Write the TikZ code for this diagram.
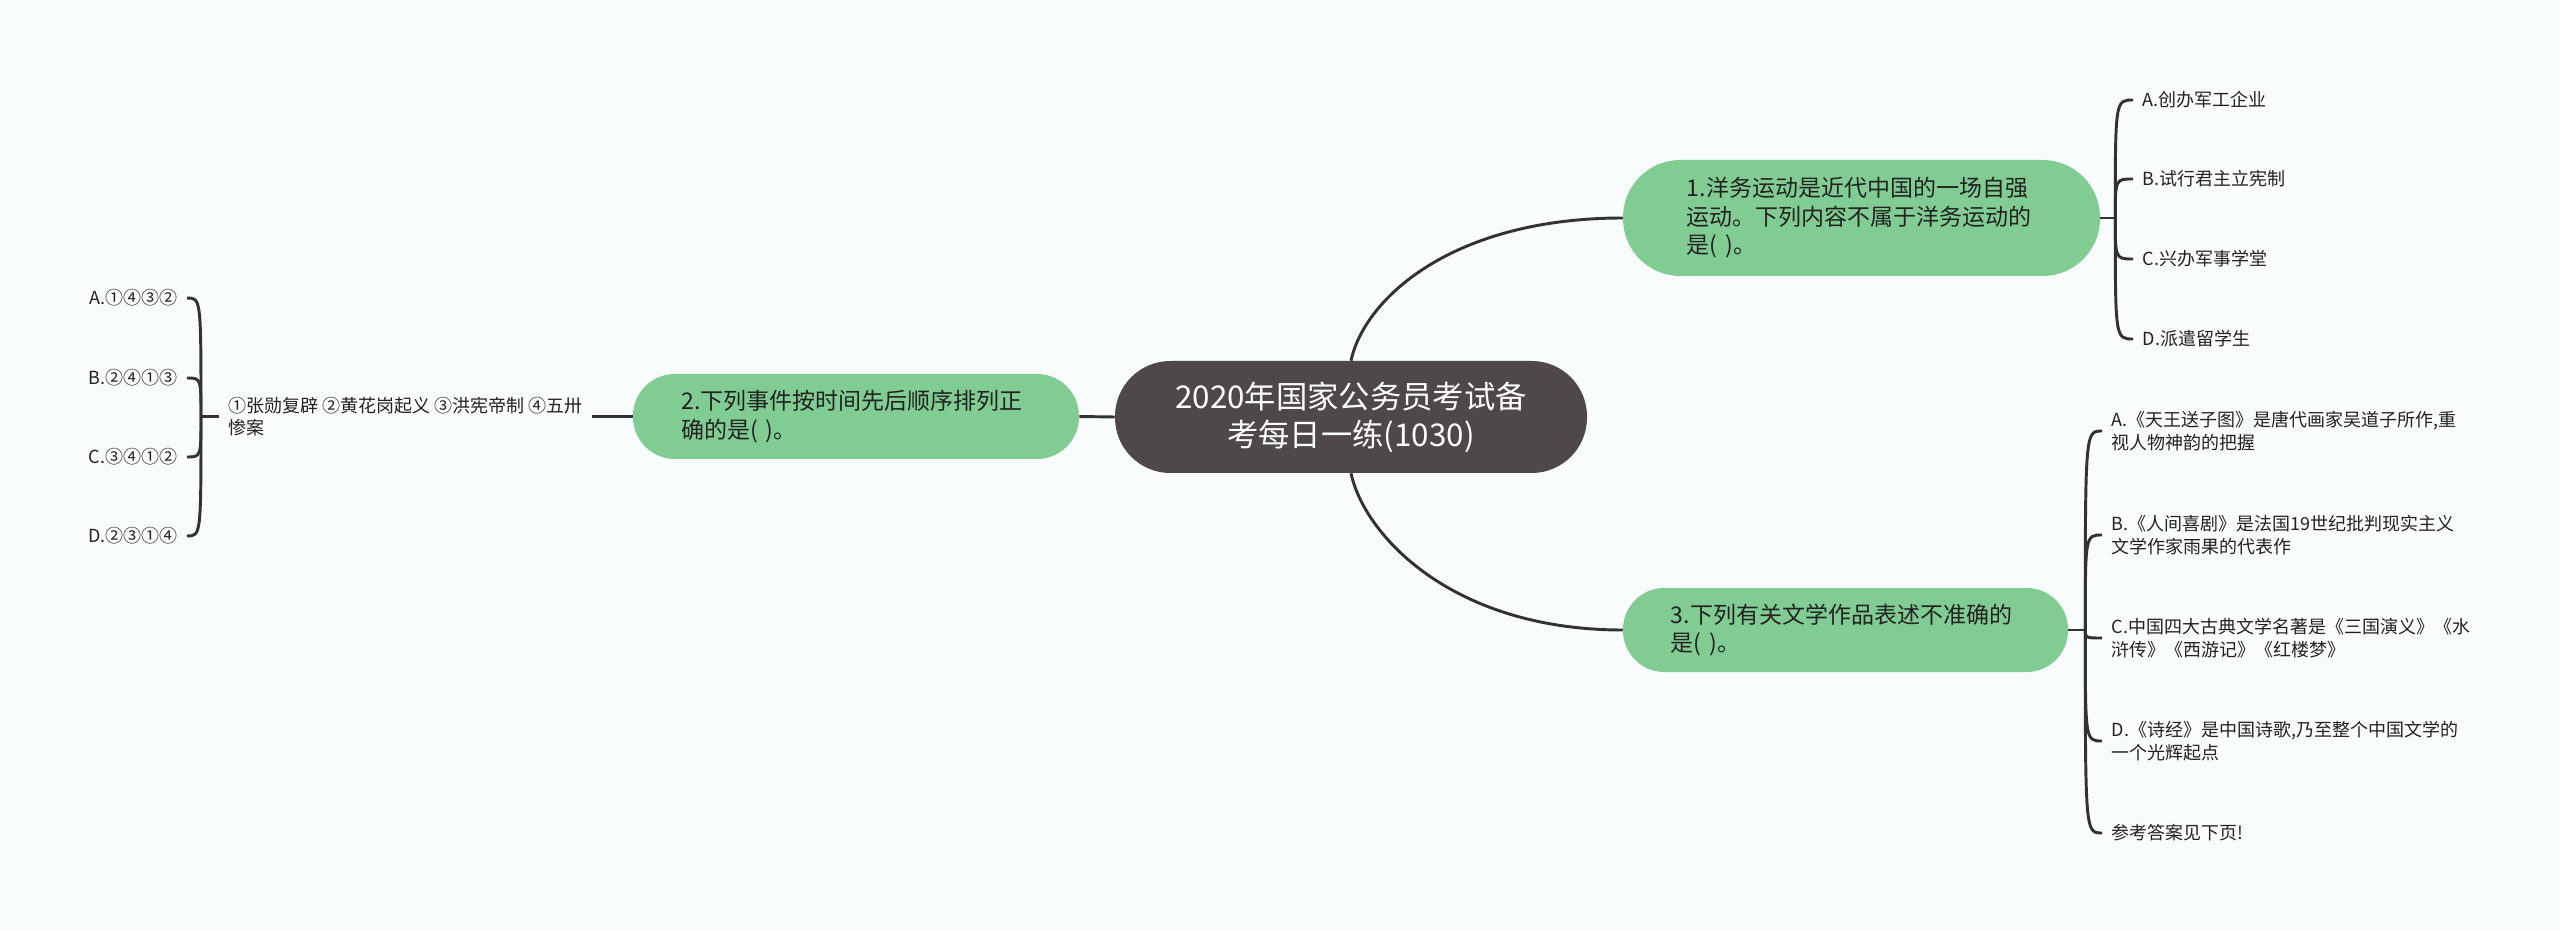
\documentclass[tikz,border=0pt]{standalone}
\usepackage{fontspec}
\setmainfont{Noto Sans CJK SC}
\usepackage{tikz}
\usetikzlibrary{positioning,calc}

\definecolor{bgcolor}{RGB}{248,252,253}
\definecolor{topicgray}{RGB}{78,72,72}
\definecolor{subgreen}{RGB}{128,204,146}
\definecolor{linegray}{RGB}{50,50,50}
\definecolor{textdark}{RGB}{34,34,34}

\begin{document}
\begin{tikzpicture}[x=0.75pt, y=-0.75pt,
  line/.style={draw=linegray, line width=2.2pt},
  topic/.style={fill=topicgray, text=white, rounded corners=41.5pt, minimum width=354pt,
    minimum height=84pt, align=center, inner sep=0pt, font=\fontsize{23.5pt}{28.5pt}\selectfont},
  sub/.style={fill=subgreen, text=textdark, align=left, text width=262pt, inner sep=0pt,
    font=\fontsize{17.25pt}{21.4pt}\selectfont},
  leaf/.style={text=textdark, align=left, inner xsep=7pt, inner ysep=2pt,
    font=\fontsize{13.5pt}{17pt}\selectfont}]
  \useasboundingbox (0,0) rectangle (2560,930);
  \fill[bgcolor] (0,0) rectangle (2560,930);

  % Central topic
  \node[topic] (c) at (1351,417) {2020年国家公务员考试备\\考每日一练(1030)};

  % Question 1
  \node[sub, minimum width=357.75pt, minimum height=87pt, rounded corners=43pt] (n1) at (1861.5,218)
    {1.洋务运动是近代中国的一场自强\\运动。下列内容不属于洋务运动的\\是( )。};
  \node[leaf, anchor=west] (a1) at (2133,100) {A.创办军工企业};
  \node[leaf, anchor=west] (b1) at (2133,179) {B.试行君主立宪制};
  \node[leaf, anchor=west] (c1) at (2133,259) {C.兴办军事学堂};
  \node[leaf, anchor=west] (d1) at (2133,339) {D.派遣留学生};

  % Question 2
  \node[sub, minimum width=334.5pt, minimum height=63.75pt, rounded corners=31.5pt] (n2) at (856,416.5)
    {2.下列事件按时间先后顺序排列正\\确的是( )。};
  \node[leaf, anchor=west] (lf) at (219,416.5) {①张勋复辟 ②黄花岗起义 ③洪宪帝制 ④五卅\\惨案};
  \node[leaf, anchor=east] (a2) at (187,298) {A.①④③②};
  \node[leaf, anchor=east] (b2) at (187,378) {B.②④①③};
  \node[leaf, anchor=east] (c2) at (187,457) {C.③④①②};
  \node[leaf, anchor=east] (d2) at (187,536) {D.②③①④};

  % Question 3
  \node[sub, minimum width=333.75pt, minimum height=63pt, rounded corners=31pt] (n3) at (1845.5,630)
    {3.下列有关文学作品表述不准确的\\是( )。};
  \node[leaf, anchor=west] (a3) at (2102,431) {A.《天王送子图》是唐代画家吴道子所作,重\\视人物神韵的把握};
  \node[leaf, anchor=west] (b3) at (2102,535) {B.《人间喜剧》是法国19世纪批判现实主义\\文学作家雨果的代表作};
  \node[leaf, anchor=west] (c3) at (2102,638) {C.中国四大古典文学名著是《三国演义》《水\\浒传》《西游记》《红楼梦》};
  \node[leaf, anchor=west] (d3) at (2102,741) {D.《诗经》是中国诗歌,乃至整个中国文学的\\一个光辉起点};
  \node[leaf, anchor=west] (e3) at (2102,833) {参考答案见下页!};

  % main branches
  \draw[line] (c.north) .. controls +(13,-61) and +(-172,0) .. (n1.west);
  \draw[line] (c.south) .. controls +(13,61) and +(-172,0) .. (n3.west);
  \draw[line] (c.west) -- (n2.east);
  \draw[line] (n2.west) -- (lf.east);

  % brackets
  \draw[line] (n1.east) -- ++(15,0) coordinate (j1);
  \foreach \k in {a1,b1,c1,d1}
    \draw[line] (j1) .. controls (j1 |- \k.west) and (j1 |- \k.west) .. (\k.west);
  \draw[line] (lf.west) -- ++(-18,0) coordinate (j2);
  \foreach \k in {a2,b2,c2,d2}
    \draw[line] (j2) .. controls (j2 |- \k.east) and (j2 |- \k.east) .. (\k.east);
  \draw[line] (n3.east) -- ++(17,0) coordinate (j3);
  \foreach \k in {a3,b3,c3,d3,e3}
    \draw[line] (j3) .. controls (j3 |- \k.west) and (j3 |- \k.west) .. (\k.west);
\end{tikzpicture}
\end{document}
